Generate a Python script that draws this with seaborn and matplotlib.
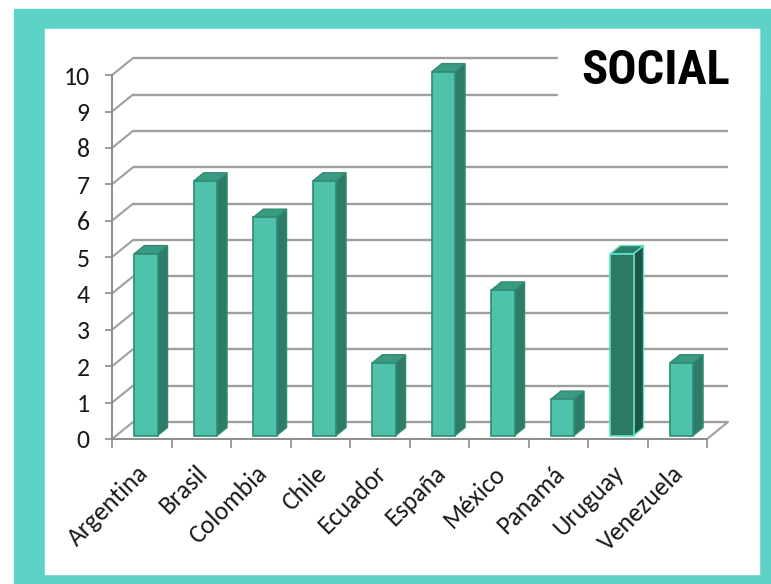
import matplotlib
matplotlib.use('Agg')
import matplotlib.pyplot as plt
import seaborn as sns
import numpy as np
import pandas as pd
from matplotlib.patches import Rectangle, Polygon
from matplotlib.transforms import ScaledTranslation

# ---- data ----
countries = ['Argentina', 'Brasil', 'Colombia', 'Chile', 'Ecuador',
             'España', 'México', 'Panamá', 'Uruguay', 'Venezuela']
values = [5, 7, 6, 7, 2, 10, 4, 1, 5, 2]
highlight = ['no', 'no', 'no', 'no', 'no', 'no', 'no', 'no', 'yes', 'no']
y_ticks = list(range(0, 11))
title = 'SOCIAL'

# ---- style ----
sns.set_theme(style='white')
plt.rcParams['font.family'] = ['Carlito', 'DejaVu Sans']

W, H = 771, 584
fig = plt.figure(figsize=(W / 100, H / 100), dpi=100)
fig.patch.set_facecolor('white')

# teal frame
fig.add_artist(Rectangle((14 / W, 0), (W - 14) / W, (H - 9) / H,
                         transform=fig.transFigure, color='#5dd3c8', zorder=-2))
fig.add_artist(Rectangle((45 / W, (H - 574) / H), (759 - 45) / W, (574 - 29) / H,
                         transform=fig.transFigure, color='white', zorder=-1))

ax = fig.add_axes([112 / W, 145 / H, 624.75 / W, 393 / H])
ax.set_facecolor('none')

# 3D depth (in data units)
DX, DY = 0.353, 0.467
F1, F2 = 0.2, 0.476

front = {'no': '#4fc2ab', 'yes': '#2b7a61'}
side = {'no': '#2e7c67', 'yes': '#1d5646'}
top = {'no': '#3a9a82', 'yes': '#2c8068'}
edge = {'no': '#2f8c72', 'yes': '#62e0c9'}

grid_c = '#9f9f9f'
# back wall gridlines and left wall diagonals
for v in y_ticks:
    ax.plot([-0.5 + DX, len(countries) - 0.5 + DX], [v + DY, v + DY],
            color=grid_c, lw=1.7, zorder=1, solid_capstyle='butt')
    ax.plot([-0.5, -0.5 + DX], [v, v + DY], color=grid_c, lw=1.5, zorder=1)
ax.plot([len(countries) - 0.5, len(countries) - 0.5 + DX], [0, DY],
        color=grid_c, lw=1.5, zorder=1)

df = pd.DataFrame({'country': countries, 'value': values, 'hl': highlight})
sns.barplot(data=df, x='country', y='value', hue='hl', palette=front,
            width=0.39, dodge=False, legend=False, ax=ax, zorder=3)

for p in list(ax.patches):
    h = p.get_height()
    if not np.isfinite(h) or h == 0:
        continue
    w = p.get_width()
    idx = int(round(p.get_x() + w / 2))
    key = highlight[idx]
    x = p.get_x() + F1 * DX
    y0 = F1 * DY
    p.set_x(x)
    p.set_y(y0)
    p.set_facecolor(front[key])
    p.set_edgecolor(edge[key])
    p.set_linewidth(1.2)
    p.set_zorder(3)
    sx, sy = F2 * DX, F2 * DY
    side_poly = Polygon([(x + w, y0), (x + w + sx, y0 + sy),
                         (x + w + sx, y0 + h + sy), (x + w, y0 + h)],
                        closed=True, facecolor=side[key], edgecolor=edge[key],
                        lw=1.0, zorder=2.9)
    top_poly = Polygon([(x, y0 + h), (x + sx, y0 + h + sy),
                        (x + w + sx, y0 + h + sy), (x + w, y0 + h)],
                       closed=True, facecolor=top[key], edgecolor=edge[key],
                       lw=1.0, zorder=2.9)
    ax.add_patch(side_poly)
    ax.add_patch(top_poly)

ax.set_xlim(-0.5, 10.0)
ax.set_ylim(0, 10.8)
ax.set_xlabel('')
ax.set_ylabel('')

for s in ['top', 'right']:
    ax.spines[s].set_visible(False)
ax.spines['left'].set_bounds(0, 10)
ax.spines['bottom'].set_bounds(-0.5, len(countries) - 0.5)
for s in ['left', 'bottom']:
    ax.spines[s].set_color('#8c8c8c')
    ax.spines[s].set_linewidth(1.4)
    ax.spines[s].set_zorder(4)

ax.set_yticks(y_ticks)
ax.tick_params(axis='y', left=True, length=5, width=1.2, color='#8c8c8c',
               pad=11, labelsize=18.5, labelcolor='#1a1a1a')
ax.set_xticks(range(len(countries)))
ax.set_xticklabels(countries)
ax.set_xticks(np.arange(-0.5, len(countries), 1), minor=True)
ax.tick_params(axis='x', which='major', bottom=True, length=0, pad=22,
               labelsize=18.5, labelcolor='#1a1a1a')
ax.tick_params(axis='x', which='minor', bottom=True, length=6.5, width=1.2,
               color='#8c8c8c', direction='out')

offset = ScaledTranslation(0.025, 0, fig.dpi_scale_trans)
for lab in ax.get_xticklabels():
    lab.set_rotation(45)
    lab.set_ha('right')
    lab.set_va('center')
    lab.set_rotation_mode('anchor')
    lab.set_transform(lab.get_transform() + offset)

# title box
fig.add_artist(Rectangle((558 / W, (H - 96) / H), (759 - 558) / W, (96 - 29) / H,
                         transform=fig.transFigure, color='white', zorder=5))
fig.text(656 / W, (H - 84) / H, title, ha='center', va='baseline',
         fontsize=35, fontweight=600, color='black',
         family=['Roboto Condensed', 'PT Sans Narrow', 'DejaVu Sans'], zorder=6)

fig.savefig('out.png', dpi=100)
